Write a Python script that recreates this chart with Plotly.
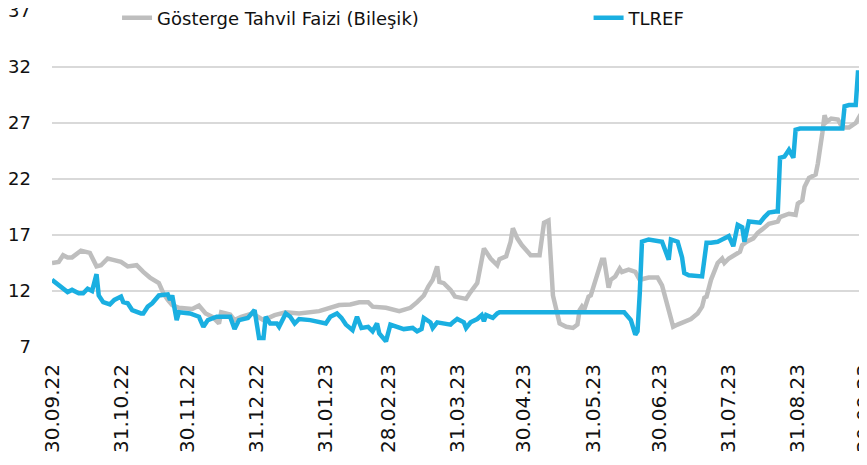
import plotly.graph_objects as go

# ---- data ----
gosterge_dates = [
    "2022-09-30", "2022-10-03", "2022-10-05", "2022-10-07", "2022-10-09", "2022-10-13", "2022-10-17",
    "2022-10-20", "2022-10-22", "2022-10-25", "2022-10-27", "2022-10-31", "2022-11-03", "2022-11-07",
    "2022-11-10", "2022-11-13", "2022-11-17", "2022-11-19", "2022-11-21", "2022-11-23", "2022-11-26",
    "2022-12-02", "2022-12-05", "2022-12-08", "2022-12-11", "2022-12-14", "2022-12-15", "2022-12-19",
    "2022-12-21", "2022-12-24", "2022-12-29", "2023-01-03", "2023-01-08", "2023-01-13", "2023-01-19",
    "2023-01-28", "2023-02-06", "2023-02-11", "2023-02-15", "2023-02-19", "2023-02-21", "2023-02-27",
    "2023-03-05", "2023-03-10", "2023-03-13", "2023-03-16", "2023-03-18", "2023-03-20", "2023-03-22",
    "2023-03-23", "2023-03-25", "2023-03-28", "2023-03-30", "2023-04-04", "2023-04-06", "2023-04-09",
    "2023-04-12", "2023-04-15", "2023-04-18", "2023-04-19", "2023-04-22", "2023-04-24", "2023-04-25",
    "2023-04-27", "2023-04-29", "2023-05-03", "2023-05-07", "2023-05-09", "2023-05-11", "2023-05-13",
    "2023-05-16", "2023-05-19", "2023-05-22", "2023-05-24", "2023-05-25", "2023-05-26", "2023-05-27",
    "2023-05-29", "2023-05-30", "2023-06-01", "2023-06-04", "2023-06-05", "2023-06-07", "2023-06-08",
    "2023-06-10", "2023-06-12", "2023-06-13", "2023-06-16", "2023-06-19", "2023-06-21", "2023-06-25",
    "2023-06-29", "2023-07-01", "2023-07-04", "2023-07-06", "2023-07-08", "2023-07-10", "2023-07-14",
    "2023-07-17", "2023-07-19", "2023-07-20", "2023-07-21", "2023-07-23", "2023-07-26", "2023-07-28",
    "2023-07-29", "2023-07-31", "2023-08-03", "2023-08-05", "2023-08-06", "2023-08-08", "2023-08-11",
    "2023-08-13", "2023-08-15", "2023-08-18", "2023-08-22", "2023-08-23", "2023-08-27", "2023-08-30",
    "2023-08-31", "2023-09-02", "2023-09-03", "2023-09-05", "2023-09-08", "2023-09-09", "2023-09-11",
    "2023-09-12", "2023-09-13", "2023-09-15", "2023-09-18", "2023-09-20", "2023-09-23", "2023-09-26",
    "2023-09-28", "2023-09-30",
]
gosterge_values = [
    14.5, 14.6, 15.2, 15.0, 15.0, 15.6, 15.4,
    14.2, 14.3, 14.9, 14.8, 14.6, 14.2, 14.3,
    13.7, 13.2, 12.7, 11.8, 11.2, 10.75, 10.5,
    10.4, 10.7, 10.0, 9.7, 9.1, 10.1, 9.9,
    9.4, 9.7, 10.0, 9.4, 9.85, 10.1, 10.0,
    10.2, 10.75, 10.8, 11.0, 11.0, 10.6, 10.5,
    10.2, 10.5, 11.0, 11.6, 12.4, 13.0, 14.2,
    12.8, 12.7, 12.1, 11.5, 11.3, 11.9, 12.7,
    15.8, 14.9, 14.3, 14.85, 15.1, 16.4, 17.6,
    16.7, 16.1, 15.2, 15.2, 18.1, 18.3, 11.6,
    9.1, 8.8, 8.7, 9.0, 10.3, 10.6, 10.3,
    11.5, 11.6, 13.0, 14.8, 14.8, 12.3, 13.0,
    13.3, 14.0, 13.7, 13.9, 13.7, 13.0, 13.2,
    13.2, 12.5, 10.3, 8.8, 9.0, 9.2, 9.5,
    10.0, 10.6, 11.4, 11.5, 13.0, 14.5, 14.9,
    14.5, 14.9, 15.2, 15.5, 16.1, 16.4, 16.7,
    17.2, 17.5, 18.0, 18.2, 18.6, 18.9, 18.8,
    19.8, 20.1, 21.3, 22.1, 22.4, 23.4, 26.1,
    27.7, 27.1, 27.4, 27.3, 26.6, 26.6, 27.0,
    27.7, 27.9,
]

tlref_dates = [
    "2022-09-30", "2022-10-03", "2022-10-05", "2022-10-07", "2022-10-09", "2022-10-12", "2022-10-14",
    "2022-10-16", "2022-10-18", "2022-10-20", "2022-10-21", "2022-10-23", "2022-10-26", "2022-10-28",
    "2022-10-31", "2022-11-01", "2022-11-03", "2022-11-05", "2022-11-09", "2022-11-10", "2022-11-12",
    "2022-11-14", "2022-11-17", "2022-11-21", "2022-11-22", "2022-11-23", "2022-11-25", "2022-11-26",
    "2022-12-01", "2022-12-05", "2022-12-07", "2022-12-09", "2022-12-13", "2022-12-19", "2022-12-21",
    "2022-12-23", "2022-12-27", "2022-12-29", "2022-12-30", "2023-01-01", "2023-01-03", "2023-01-04",
    "2023-01-06", "2023-01-09", "2023-01-10", "2023-01-13", "2023-01-15", "2023-01-17", "2023-01-19",
    "2023-01-24", "2023-01-27", "2023-01-31", "2023-02-02", "2023-02-05", "2023-02-07", "2023-02-09",
    "2023-02-12", "2023-02-14", "2023-02-16", "2023-02-19", "2023-02-21", "2023-02-23", "2023-02-24",
    "2023-02-27", "2023-03-01", "2023-03-04", "2023-03-07", "2023-03-11", "2023-03-13", "2023-03-15",
    "2023-03-16", "2023-03-19", "2023-03-20", "2023-03-22", "2023-03-25", "2023-03-28", "2023-03-29",
    "2023-03-31", "2023-04-03", "2023-04-04", "2023-04-06", "2023-04-09", "2023-04-11", "2023-04-12",
    "2023-04-13", "2023-04-16", "2023-04-18", "2023-04-19", "2023-06-14", "2023-06-17", "2023-06-19",
    "2023-06-20", "2023-06-21", "2023-06-22", "2023-06-25", "2023-07-01", "2023-07-04", "2023-07-05",
    "2023-07-08", "2023-07-10", "2023-07-11", "2023-07-13", "2023-07-19", "2023-07-20", "2023-07-21",
    "2023-07-23", "2023-07-26", "2023-07-28", "2023-07-31", "2023-08-02", "2023-08-04", "2023-08-06",
    "2023-08-07", "2023-08-09", "2023-08-13", "2023-08-14", "2023-08-16", "2023-08-18", "2023-08-21",
    "2023-08-22", "2023-08-23", "2023-08-25", "2023-08-26", "2023-08-27", "2023-08-29", "2023-08-30",
    "2023-09-01", "2023-09-04", "2023-09-07", "2023-09-10", "2023-09-14", "2023-09-20", "2023-09-21",
    "2023-09-23", "2023-09-26", "2023-09-27", "2023-09-30",
]
tlref_values = [
    13.0, 12.5, 12.2, 11.9, 12.1, 11.8, 11.8,
    12.2, 12.0, 13.5, 11.6, 11.0, 10.8, 11.2,
    11.5, 11.0, 10.9, 10.3, 10.0, 10.0, 10.6,
    10.9, 11.6, 11.7, 11.2, 11.6, 9.4, 10.1,
    10.0, 9.7, 8.8, 9.4, 9.7, 9.7, 8.6,
    9.4, 9.6, 10.1, 10.3, 7.8, 7.8, 9.7,
    9.1, 9.1, 8.8, 10.0, 9.7, 9.1, 9.5,
    9.4, 9.3, 9.1, 9.7, 10.0, 9.6, 9.0,
    8.5, 9.7, 8.7, 8.8, 8.4, 9.1, 8.2,
    7.5, 9.0, 8.8, 8.6, 8.7, 8.4, 8.6,
    9.6, 9.2, 8.7, 9.2, 9.1, 9.0, 9.2,
    9.5, 9.2, 8.7, 9.2, 9.5, 9.85, 9.3,
    9.85, 9.6, 10.0, 10.1, 10.1, 9.4, 8.1,
    8.4, 11.8, 16.4, 16.6, 16.4, 14.8, 16.6,
    16.4, 15.0, 13.6, 13.4, 13.3, 15.0, 16.3,
    16.3, 16.4, 16.6, 16.9, 16.0, 17.9, 17.7,
    16.4, 18.2, 18.1, 18.1, 18.6, 19.0, 19.1,
    19.1, 23.9, 24.0, 24.3, 24.6, 23.9, 26.4,
    26.5, 26.5, 26.4, 26.4, 26.5, 26.5, 28.5,
    28.6, 28.6, 31.5, 31.5,
]

series_names = ["Gösterge Tahvil Faizi (Bileşik)", "TLREF"]
tick_dates = ["2022-09-30", "2022-10-31", "2022-11-30", "2022-12-31", "2023-01-31", "2023-02-28",
              "2023-03-31", "2023-04-30", "2023-05-31", "2023-06-30", "2023-07-31", "2023-08-31",
              "2023-09-30"]
tick_labels = ["30.09.22", "31.10.22", "30.11.22", "31.12.22", "31.01.23", "28.02.23", "31.03.23",
               "30.04.23", "31.05.23", "30.06.23", "31.07.23", "31.08.23", "30.09.23"]
y_ticks = [7, 12, 17, 22, 27, 32, 37]

GRAY = "#BEBEBE"
BLUE = "#1AAFE1"
FONT = "DejaVu Sans"

fig = go.Figure()
fig.add_trace(go.Scatter(x=gosterge_dates, y=gosterge_values, mode="lines", name=series_names[0],
                         line=dict(color=GRAY, width=4.5), legend="legend"))
fig.add_trace(go.Scatter(x=tlref_dates, y=tlref_values, mode="lines", name=series_names[1],
                         line=dict(color=BLUE, width=4.5), legend="legend2"))

legend_common = dict(orientation="h", xanchor="left", yanchor="middle", y=0.979,
                     bgcolor="rgba(0,0,0,0)", font=dict(size=18, family=FONT, color="#111111"))

# the page body has an 8px margin, so the figure is sized 859x457 to fill the 867x465 window
fig.update_layout(
    width=859, height=457,
    margin=dict(l=44, r=2, t=3, b=118, autoexpand=False),
    paper_bgcolor="white", plot_bgcolor="white",
    font=dict(family=FONT, size=18, color="#111111"),
    showlegend=True,
    legend=dict(x=0.08, **legend_common),
    legend2=dict(x=0.66, **legend_common),
    xaxis=dict(type="date", range=["2022-09-30", "2023-09-30 04:00"], tickvals=tick_dates,
               ticktext=tick_labels, tickangle=-90, showgrid=False, zeroline=False,
               showline=False, ticks="", ticklabelstandoff=12, automargin=False,
               ticklabeloverflow="allow", tickfont=dict(size=20, family=FONT)),
    yaxis=dict(range=[7, 37], tickvals=y_ticks, showgrid=True, gridcolor="#D9D9D9", gridwidth=1.5,
               zeroline=False, showline=False, ticks="", ticklabelstandoff=20, automargin=False,
               ticklabeloverflow="allow", tickfont=dict(size=18, family=FONT)),
)

fig.write_html("out.html")
